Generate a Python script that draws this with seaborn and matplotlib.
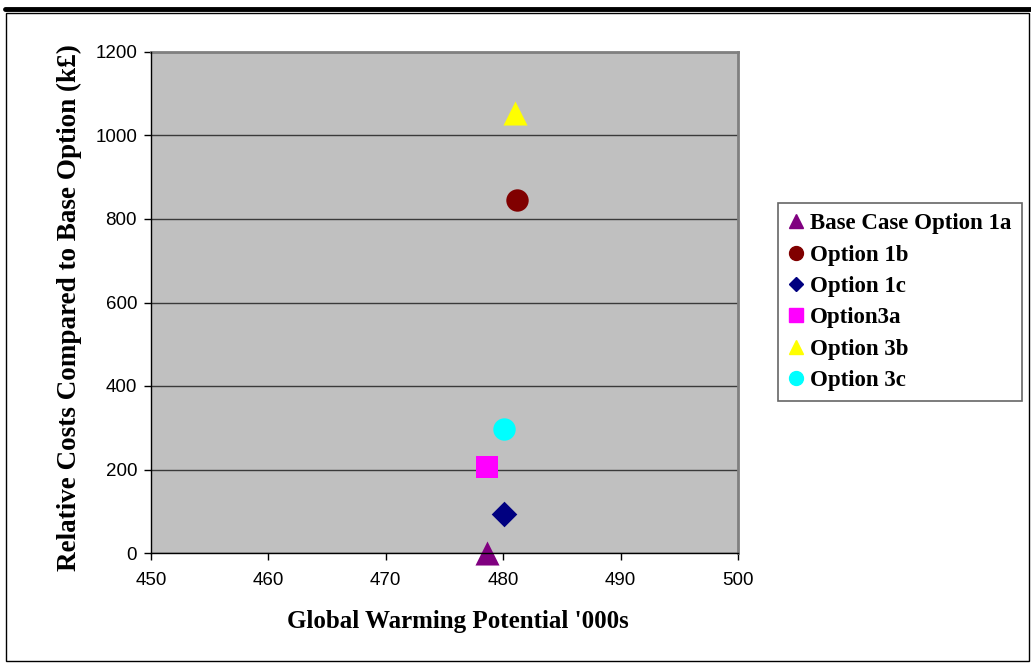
import matplotlib
matplotlib.use("Agg")
import matplotlib.pyplot as plt
from matplotlib.lines import Line2D
from matplotlib.patches import Rectangle
import seaborn as sns
import pandas as pd

# Scenario data: global warming potential ('000s) vs relative cost (k£)
options = ["Base Case Option 1a", "Option 1b", "Option 1c", "Option3a", "Option 3b", "Option 3c"]
gwp = [478.6, 481.2, 480.1, 478.6, 481.0, 480.1]
cost = [0, 845, 93, 205, 1055, 298]
colors = ["#800080", "#800000", "#000080", "#FF00FF", "#FFFF00", "#00FFFF"]
markers = ["^", "o", "D", "s", "^", "o"]
marker_sizes = [300, 260, 170, 260, 300, 260]

df = pd.DataFrame({"option": options, "gwp": gwp, "cost": cost})

sns.set_theme(style="white")
plt.rcParams["font.family"] = ["Liberation Sans", "DejaVu Sans"]
plt.rcParams["text.color"] = "black"
plt.rcParams["axes.labelcolor"] = "black"

fig = plt.figure(figsize=(10.31, 6.66), dpi=100)
ax = fig.add_axes([151 / 1031, 1 - 553 / 666, (738 - 151) / 1031, (553 - 52) / 666])
ax.set_facecolor("#C0C0C0")

for i, row in df.iterrows():
    sns.scatterplot(x=[row["gwp"]], y=[row["cost"]], ax=ax, color=colors[i],
                    marker=markers[i], s=marker_sizes[i], linewidth=0,
                    zorder=3, clip_on=False, legend=False)

ax.set_xlim(450, 500)
ax.set_ylim(0, 1200)
ax.set_xticks(range(450, 501, 10))
ax.set_yticks(range(0, 1201, 200))
ax.grid(axis="y", color="#3a3a3a", linewidth=1.0)
ax.grid(axis="x", visible=False)
ax.set_axisbelow(True)

for side in ["left", "bottom"]:
    ax.spines[side].set_color("black")
    ax.spines[side].set_linewidth(1.0)
for side in ["top", "right"]:
    ax.spines[side].set_color("#808080")
    ax.spines[side].set_linewidth(2.0)
ax.spines["left"].set_zorder(4)
ax.spines["bottom"].set_zorder(4)

ax.tick_params(axis="both", which="both", direction="out", length=5, width=1,
               color="black", labelsize=13.5, labelcolor="black",
               bottom=True, left=True)
ax.tick_params(axis="y", pad=5)
ax.tick_params(axis="x", pad=9)

serif = ["Liberation Serif", "DejaVu Serif"]
ax.set_xlabel("Global Warming Potential '000s", fontsize=18, fontweight="bold",
              family=serif, color="black")
ax.set_ylabel("Relative Costs Compared to Base Option (k£)", fontsize=19.5,
              fontweight="bold", family=serif, color="black")
ax.xaxis.set_label_coords(0.523, -0.113)
ax.yaxis.set_label_coords(-0.117, 0.49)

handles = [Line2D([0], [0], marker=m, color="none", markerfacecolor=c,
                  markeredgecolor=c, markersize=10 if m != "D" else 7.5)
           for m, c in zip(markers, colors)]
leg = fig.legend(handles, options, loc="upper left",
                 bbox_to_anchor=(778 / 1031, 1 - 203 / 666),
                 frameon=True, fancybox=False, handlelength=0.7,
                 handletextpad=0.25, labelspacing=0.45, borderpad=0.45,
                 borderaxespad=0,
                 prop={"family": serif, "weight": "bold", "size": 16.5})
leg.get_frame().set_edgecolor("#404040")
leg.get_frame().set_linewidth(1.2)
for t in leg.get_texts():
    t.set_color("black")

# page-style rule and outer frame
fig.add_artist(Line2D([5 / 1031, 1.0], [1 - 9 / 666, 1 - 9 / 666],
                      color="black", linewidth=3.5, transform=fig.transFigure))
fig.add_artist(Rectangle((6 / 1031, 1 - 661 / 666), (1029 - 6) / 1031,
                         (661 - 13) / 666, fill=False, edgecolor="black",
                         linewidth=1.0, transform=fig.transFigure))

fig.savefig("out.png", dpi=100)
